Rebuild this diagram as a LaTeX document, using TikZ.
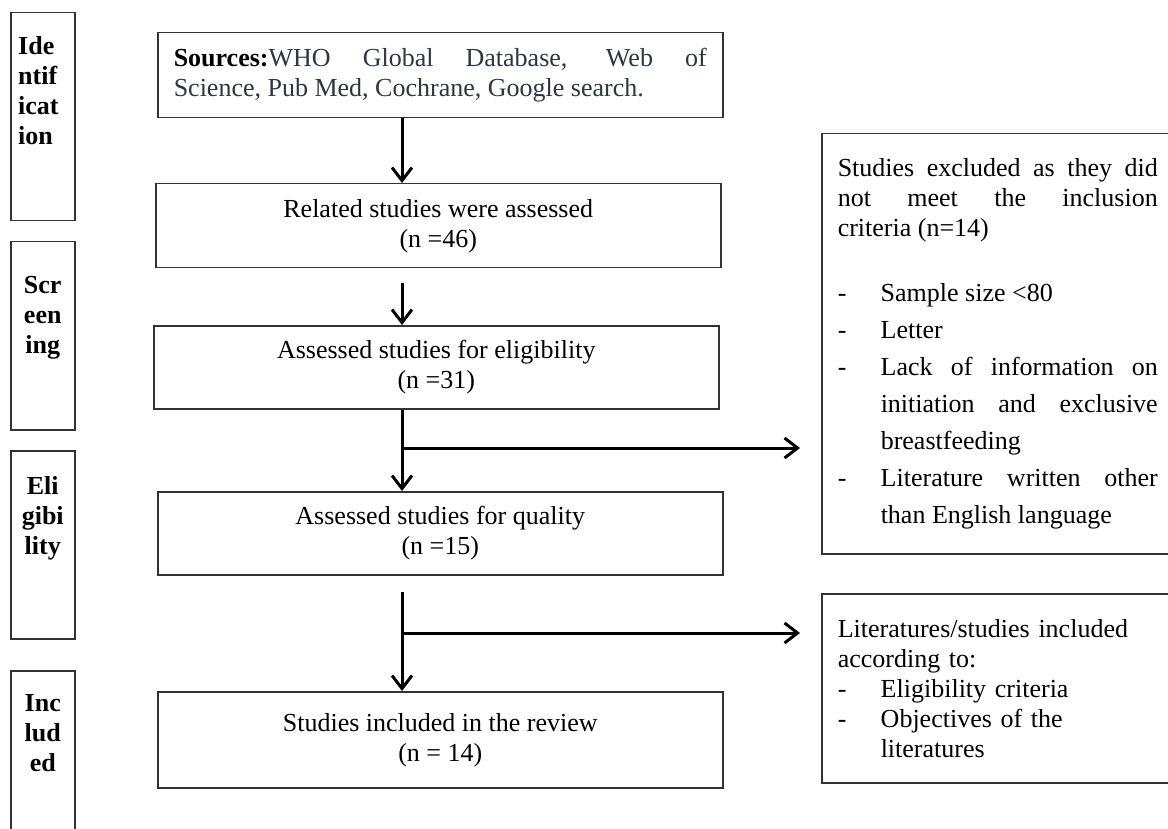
\documentclass[tikz,border=0pt]{standalone}
\usepackage{fontspec}
\setmainfont{Liberation Serif}
\usetikzlibrary{arrows.meta,positioning}
\definecolor{boxline}{RGB}{51,51,51}
\definecolor{srcink}{RGB}{45,55,65}
\newcommand{\dashitem}[1]{\par\noindent\hangindent=43pt\hangafter=1\makebox[43pt][l]{-}#1}

\begin{document}
\begin{tikzpicture}[
    x=1pt, y=-1pt,
    every node/.style={font=\fontsize{26pt}{30pt}\selectfont},
    flowbox/.style={draw=boxline, line width=1.5pt, minimum width=565pt,
      anchor=north west, align=center, inner sep=0pt},
    sidebox/.style={draw=boxline, line width=1.5pt, anchor=north west,
      minimum width=352pt, text width=320pt, inner xsep=16pt, inner ysep=0pt},
    phasebox/.style={draw=boxline, line width=1.5pt, anchor=north west,
      minimum width=64pt, inner sep=0pt},
    phaselabel/.style={font=\fontsize{26pt}{30pt}\selectfont\bfseries,
      inner sep=0pt, anchor=north, align=center},
    flow/.style={line width=3pt, -{Straight Barb[length=13pt, width=20pt]}},
  ]
    \useasboundingbox (0,0) rectangle (1168,829);
    \clip (0,0) rectangle (1168,829);
    \fill[white] (0,0) rectangle (1168,829);

    %% Phase column
    \node[phasebox, minimum height=208pt] (ident) at (10,12) {};
    \node[phasebox, minimum height=188pt] (screen) at (10,241) {};
    \node[phasebox, minimum height=188pt] (elgph) at (10,450) {};
    \node[phasebox, minimum height=200pt] (inclph) at (10,670) {};
    \node[phaselabel, align=left, anchor=north west] (identlab)
      at ([xshift=8pt, yshift=-24pt]ident.north west) {Ide\\ntif\\icat\\ion};
    \node[phaselabel, below=35pt of screen.north] (screenlab) {Scr\\een\\ing};
    \node[phaselabel, below=26pt of elgph.north] (elglab) {Eli\\gibi\\lity};
    \node[phaselabel, below=24pt of inclph.north] (incllab) {Inc\\lud\\ed};

    %% Main flow
    \node[flowbox, minimum height=85pt, text width=533pt, inner xsep=16pt,
      align=justify, text=srcink] (src) at (157,32)
      {\textbf{\color{black}Sources:}WHO Global Database, Web of\linebreak
       Science, Pub Med, Cochrane, Google search.};
    \node[flowbox, minimum height=84pt] (rel) at (155,183)
      {Related studies were assessed\\(n =46)};
    \node[flowbox, minimum height=83pt] (elig) at (153,325)
      {Assessed studies for eligibility\\(n =31)};
    \node[flowbox, minimum height=83pt] (qual) at (157,491)
      {Assessed studies for quality\\(n =15)};
    \node[flowbox, minimum height=96pt] (incl) at (157,691)
      {Studies included in the review\\(n = 14)};

    %% Side boxes
    \node[sidebox, minimum height=420pt, align=justify] (excl) at (821,133)
      {Studies excluded as they did\linebreak not meet the inclusion\linebreak
       criteria (n=14)\par\vspace{28pt}\fontsize{26pt}{37pt}\selectfont
       \dashitem{Sample size <80}
       \dashitem{Letter}
       \dashitem{Lack of information on\linebreak initiation and exclusive\linebreak breastfeeding}
       \dashitem{Literature written other\linebreak than English language}\par};
    \node[sidebox, minimum height=189pt, align=left] (keep) at (821,593)
      {Literatures/studies included\\according to:
       \dashitem{Eligibility criteria}
       \dashitem{Objectives of the\linebreak literatures}\par};

    %% Arrows
    \coordinate (spine) at (402,0);
    \coordinate (cut1) at (402,448);
    \coordinate (cut2) at (402,633);
    \draw[flow] (src.south -| spine) -- (rel.north -| spine);
    \draw[flow, shorten <=15pt] (rel.south -| spine) -- (elig.north -| spine);
    \draw[flow] (elig.south -| spine) -- (qual.north -| spine);
    \draw[flow, shorten <=16pt] (qual.south -| spine) -- (incl.north -| spine);
    \draw[flow, shorten >=21pt] (cut1) -- (cut1 -| excl.west);
    \draw[flow, shorten >=21pt] (cut2) -- (cut2 -| keep.west);
\end{tikzpicture}
\end{document}
